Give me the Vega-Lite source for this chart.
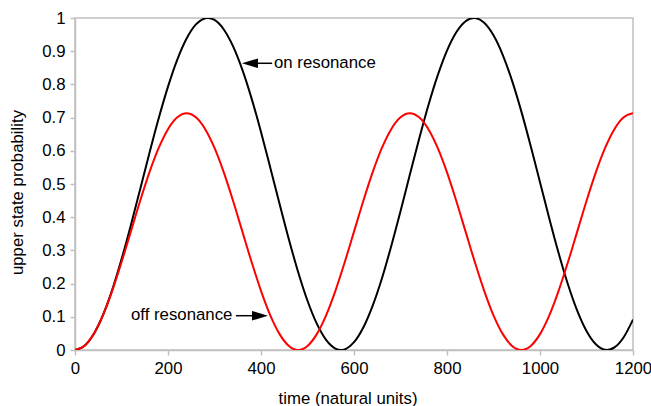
{
  "$schema": "https://vega.github.io/schema/vega-lite/v6.json",
  "width": 558,
  "height": 332,
  "autosize": {"type": "none"},
  "padding": {"left": 75, "top": 18, "right": 18, "bottom": 56},
  "background": "white",
  "datasets": {
    "curves": [
      {"t": 0, "p": 0, "s": "on"}, {"t": 20, "p": 0.0120, "s": "on"}, {"t": 40, "p": 0.0475, "s": "on"}, {"t": 60, "p": 0.1047, "s": "on"},
      {"t": 80, "p": 0.1810, "s": "on"}, {"t": 100, "p": 0.2730, "s": "on"}, {"t": 120, "p": 0.3751, "s": "on"}, {"t": 140, "p": 0.4836, "s": "on"},
      {"t": 160, "p": 0.5929, "s": "on"}, {"t": 180, "p": 0.6978, "s": "on"}, {"t": 200, "p": 0.7932, "s": "on"}, {"t": 220, "p": 0.8746, "s": "on"},
      {"t": 240, "p": 0.9380, "s": "on"}, {"t": 260, "p": 0.9806, "s": "on"}, {"t": 280, "p": 0.9989, "s": "on"}, {"t": 286, "p": 1.0, "s": "on"},
      {"t": 300, "p": 0.9941, "s": "on"}, {"t": 320, "p": 0.9655, "s": "on"}, {"t": 340, "p": 0.9146, "s": "on"}, {"t": 360, "p": 0.8437, "s": "on"},
      {"t": 380, "p": 0.7565, "s": "on"}, {"t": 400, "p": 0.6566, "s": "on"}, {"t": 420, "p": 0.5493, "s": "on"}, {"t": 440, "p": 0.4397, "s": "on"},
      {"t": 460, "p": 0.3330, "s": "on"}, {"t": 480, "p": 0.2343, "s": "on"}, {"t": 500, "p": 0.1483, "s": "on"}, {"t": 520, "p": 0.0793, "s": "on"},
      {"t": 540, "p": 0.0305, "s": "on"}, {"t": 560, "p": 0.0043, "s": "on"}, {"t": 572, "p": 0, "s": "on"}, {"t": 580, "p": 0.0019, "s": "on"},
      {"t": 600, "p": 0.0235, "s": "on"}, {"t": 620, "p": 0.0679, "s": "on"}, {"t": 640, "p": 0.1331, "s": "on"}, {"t": 660, "p": 0.2154, "s": "on"},
      {"t": 680, "p": 0.3127, "s": "on"}, {"t": 700, "p": 0.4180, "s": "on"}, {"t": 720, "p": 0.5275, "s": "on"}, {"t": 740, "p": 0.6357, "s": "on"},
      {"t": 760, "p": 0.7373, "s": "on"}, {"t": 780, "p": 0.8271, "s": "on"}, {"t": 800, "p": 0.9018, "s": "on"}, {"t": 820, "p": 0.9571, "s": "on"},
      {"t": 840, "p": 0.9903, "s": "on"}, {"t": 858, "p": 1.0, "s": "on"}, {"t": 860, "p": 0.9999, "s": "on"}, {"t": 880, "p": 0.9855, "s": "on"},
      {"t": 900, "p": 0.9477, "s": "on"}, {"t": 920, "p": 0.8884, "s": "on"}, {"t": 940, "p": 0.8107, "s": "on"}, {"t": 960, "p": 0.7180, "s": "on"},
      {"t": 980, "p": 0.6143, "s": "on"}, {"t": 1000, "p": 0.5054, "s": "on"}, {"t": 1020, "p": 0.3963, "s": "on"}, {"t": 1040, "p": 0.2921, "s": "on"},
      {"t": 1060, "p": 0.1979, "s": "on"}, {"t": 1080, "p": 0.1185, "s": "on"}, {"t": 1100, "p": 0.0572, "s": "on"}, {"t": 1120, "p": 0.0172, "s": "on"},
      {"t": 1140, "p": 0.0005, "s": "on"}, {"t": 1144, "p": 0, "s": "on"}, {"t": 1160, "p": 0.0077, "s": "on"}, {"t": 1180, "p": 0.0386, "s": "on"},
      {"t": 1200, "p": 0.0917, "s": "on"},
      {"t": 0, "p": 0, "s": "off"}, {"t": 20, "p": 0.0122, "s": "off"}, {"t": 40, "p": 0.0478, "s": "off"}, {"t": 60, "p": 0.1044, "s": "off"},
      {"t": 80, "p": 0.1783, "s": "off"}, {"t": 100, "p": 0.2642, "s": "off"}, {"t": 120, "p": 0.3565, "s": "off"}, {"t": 140, "p": 0.4488, "s": "off"},
      {"t": 160, "p": 0.5348, "s": "off"}, {"t": 180, "p": 0.6086, "s": "off"}, {"t": 200, "p": 0.6652, "s": "off"}, {"t": 220, "p": 0.7008, "s": "off"},
      {"t": 240, "p": 0.713, "s": "off"}, {"t": 260, "p": 0.7008, "s": "off"}, {"t": 280, "p": 0.6652, "s": "off"}, {"t": 300, "p": 0.6086, "s": "off"},
      {"t": 320, "p": 0.5348, "s": "off"}, {"t": 340, "p": 0.4488, "s": "off"}, {"t": 360, "p": 0.3565, "s": "off"}, {"t": 380, "p": 0.2642, "s": "off"},
      {"t": 400, "p": 0.1783, "s": "off"}, {"t": 420, "p": 0.1044, "s": "off"}, {"t": 440, "p": 0.0478, "s": "off"}, {"t": 460, "p": 0.0122, "s": "off"},
      {"t": 480, "p": 0, "s": "off"}, {"t": 500, "p": 0.0122, "s": "off"}, {"t": 520, "p": 0.0478, "s": "off"}, {"t": 540, "p": 0.1044, "s": "off"},
      {"t": 560, "p": 0.1783, "s": "off"}, {"t": 580, "p": 0.2642, "s": "off"}, {"t": 600, "p": 0.3565, "s": "off"}, {"t": 620, "p": 0.4488, "s": "off"},
      {"t": 640, "p": 0.5348, "s": "off"}, {"t": 660, "p": 0.6086, "s": "off"}, {"t": 680, "p": 0.6652, "s": "off"}, {"t": 700, "p": 0.7008, "s": "off"},
      {"t": 720, "p": 0.713, "s": "off"}, {"t": 740, "p": 0.7008, "s": "off"}, {"t": 760, "p": 0.6652, "s": "off"}, {"t": 780, "p": 0.6086, "s": "off"},
      {"t": 800, "p": 0.5348, "s": "off"}, {"t": 820, "p": 0.4488, "s": "off"}, {"t": 840, "p": 0.3565, "s": "off"}, {"t": 860, "p": 0.2642, "s": "off"},
      {"t": 880, "p": 0.1783, "s": "off"}, {"t": 900, "p": 0.1044, "s": "off"}, {"t": 920, "p": 0.0478, "s": "off"}, {"t": 940, "p": 0.0122, "s": "off"},
      {"t": 960, "p": 0, "s": "off"}, {"t": 980, "p": 0.0122, "s": "off"}, {"t": 1000, "p": 0.0478, "s": "off"}, {"t": 1020, "p": 0.1044, "s": "off"},
      {"t": 1040, "p": 0.1783, "s": "off"}, {"t": 1060, "p": 0.2642, "s": "off"}, {"t": 1080, "p": 0.3565, "s": "off"}, {"t": 1100, "p": 0.4488, "s": "off"},
      {"t": 1120, "p": 0.5348, "s": "off"}, {"t": 1140, "p": 0.6086, "s": "off"}, {"t": 1160, "p": 0.6652, "s": "off"}, {"t": 1180, "p": 0.7008, "s": "off"},
      {"t": 1200, "p": 0.713, "s": "off"}
    ],
    "shafts": [
      {"t": 376, "t2": 424, "p": 0.8636},
      {"t": 346, "t2": 398, "p": 0.1033}
    ],
    "heads": [
      {"t": 376.3, "p": 0.8636, "dir": "left"},
      {"t": 397.8, "p": 0.1033, "dir": "right"}
    ],
    "labels": [
      {"t": 428, "p": 0.8485, "label": "on resonance"},
      {"t": 120.4, "p": 0.0904, "label": "off resonance"}
    ]
  },
  "encoding": {
    "x": {
      "field": "t", "type": "quantitative",
      "scale": {"domain": [0, 1200], "nice": false},
      "axis": {
        "values": [0, 200, 400, 600, 800, 1000, 1200], "format": "d",
        "title": "time (natural units)",
        "labelBaseline": "alphabetic", "labelPadding": 18, "tickSize": 5,
        "labelFlush": false, "labelOverlap": false,
        "titleX": 272.5, "titleY": 53, "titleBaseline": "alphabetic", "titleAnchor": null
      }
    },
    "y": {
      "field": "p", "type": "quantitative",
      "scale": {"domain": [0, 1], "nice": false},
      "axis": {
        "values": [0, 0.1, 0.2, 0.3, 0.4, 0.5, 0.6, 0.7, 0.8, 0.9, 1], "format": ".1~f",
        "tickCount": 11,
        "title": "upper state probability",
        "labelPadding": 5, "tickSize": 5,
        "labelFlush": false, "labelOverlap": false, "labelBaseline": "middle",
        "titleX": -53, "titleY": 174, "titleBaseline": "alphabetic", "titleAngle": -90, "titleAlign": "center"
      }
    }
  },
  "layer": [
    {
      "data": {"name": "curves"},
      "mark": {"type": "line", "strokeWidth": 2, "interpolate": "monotone", "clip": true},
      "encoding": {
        "color": {
          "field": "s", "type": "nominal",
          "scale": {"domain": ["on", "off"], "range": ["#000000", "#ff0000"]},
          "legend": null
        }
      }
    },
    {
      "data": {"name": "shafts"},
      "mark": {"type": "rule", "color": "#000000", "strokeWidth": 1.5},
      "encoding": {
        "x2": {"field": "t2"}
      }
    },
    {
      "data": {"name": "heads"},
      "mark": {"type": "point", "filled": true, "size": 256, "color": "#000000", "opacity": 1, "strokeWidth": 0},
      "encoding": {
        "shape": {
          "field": "dir", "type": "nominal",
          "scale": {"domain": ["left", "right"], "range": ["M -1 0 L 1 -0.6 L 1 0.6 Z", "M 1 0 L -1 -0.6 L -1 0.6 Z"]},
          "legend": null
        }
      }
    },
    {
      "data": {"name": "labels"},
      "mark": {"type": "text", "align": "left", "baseline": "alphabetic", "font": "Liberation Sans", "fontSize": 16.8, "color": "#000000"},
      "encoding": {
        "text": {"field": "label"}
      }
    }
  ],
  "config": {
    "view": {"stroke": "#c0c0c0", "strokeWidth": 1.5},
    "axis": {
      "grid": false,
      "labelFont": "Liberation Sans", "labelFontSize": 16.8, "labelColor": "#000000",
      "titleFont": "Liberation Sans", "titleFontSize": 16.8, "titleFontWeight": "normal", "titleColor": "#000000",
      "domainColor": "#c0c0c0", "domainWidth": 1.5,
      "tickColor": "#c0c0c0", "tickWidth": 1.5
    }
  }
}
